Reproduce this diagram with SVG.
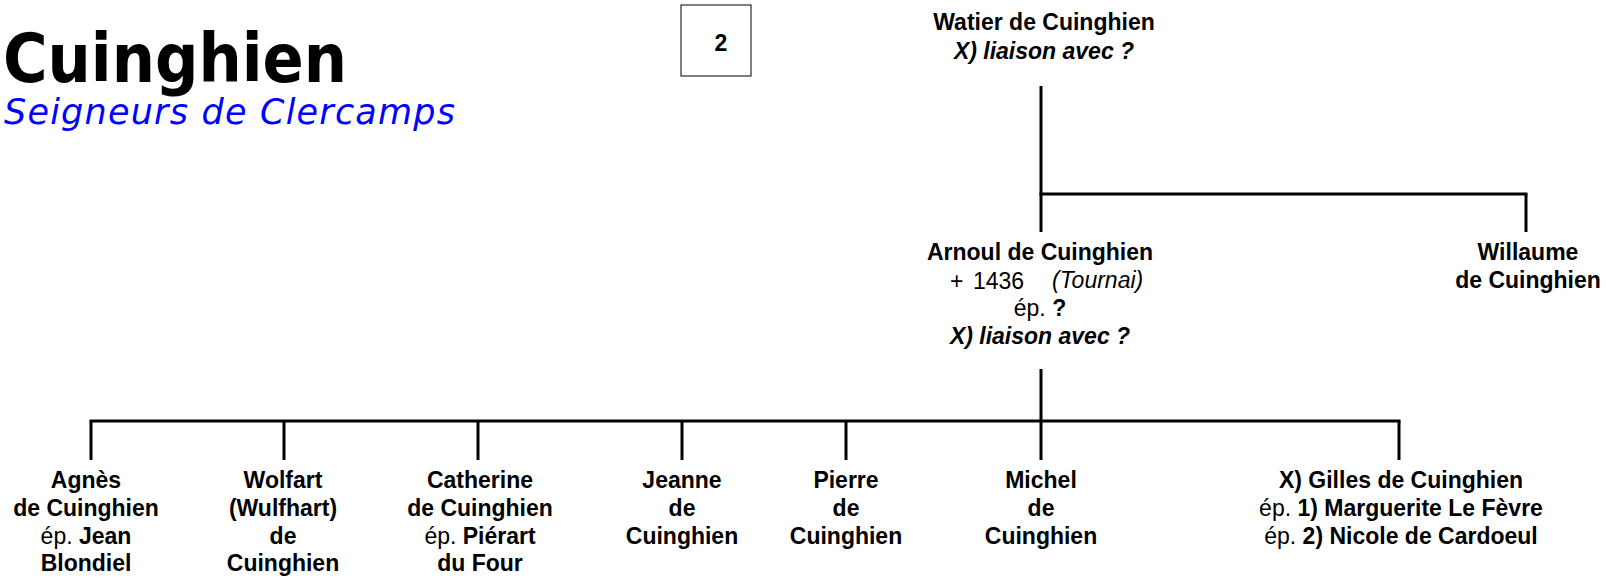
<svg xmlns="http://www.w3.org/2000/svg" width="1606" height="578" viewBox="0 0 1606 578">
<style>
.t{font-family:"Liberation Sans",Arial,sans-serif;font-size:23px;text-anchor:middle;fill:#000}
.s{text-anchor:start}
.b{font-weight:bold}
.i{font-style:italic}
.conn line{stroke:#000;stroke-width:3;stroke-linecap:butt}
</style>
<rect width="1606" height="578" fill="#fff"/>
<g id="title">
<text x="3" y="82" font-family="'DejaVu Sans',Verdana,sans-serif" font-weight="bold" font-size="67" textLength="344" lengthAdjust="spacingAndGlyphs">Cuinghien</text>
<text x="4" y="124" font-family="'DejaVu Sans',Verdana,sans-serif" font-style="italic" font-size="35" fill="#0000ff" textLength="451">Seigneurs de Clercamps</text>
</g>
<g id="page-number">
<rect x="681" y="5" width="70" height="71" fill="#fff" stroke="#000" stroke-width="1"/>
<text class="t b" x="721" y="51" font-size="21">2</text>
</g>
<g class="conn" id="connectors">
<line x1="1041" y1="86" x2="1041" y2="232"/>
<line x1="1039.5" y1="194" x2="1527.5" y2="194"/>
<line x1="1526" y1="194" x2="1526" y2="232"/>
<line x1="1041" y1="369" x2="1041" y2="460"/>
<line x1="89.5" y1="421" x2="1400.5" y2="421"/>
<line x1="91" y1="421" x2="91" y2="460"/>
<line x1="284" y1="421" x2="284" y2="460"/>
<line x1="478" y1="421" x2="478" y2="460"/>
<line x1="682" y1="421" x2="682" y2="460"/>
<line x1="846" y1="421" x2="846" y2="460"/>
<line x1="1399" y1="421" x2="1399" y2="460"/>
</g>
<g id="watier">
<text class="t b" x="1044" y="30" font-size="24">Watier de Cuinghien</text>
<text class="t b i" x="1044" y="59" font-size="24">X) liaison avec ?</text>
</g>
<g id="arnoul">
<text class="t b" x="1040" y="260">Arnoul de Cuinghien</text>
<text class="t s" x="950" y="289" font-size="25">+</text>
<text class="t s" x="973" y="289" font-size="25">1436</text>
<text class="t s i" x="1052" y="288" font-size="17">(Tournai)</text>
<text class="t" x="1040" y="316">ép. <tspan class="b">?</tspan></text>
<text class="t b i" x="1040" y="344">X) liaison avec ?</text>
</g>
<g id="willaume">
<text class="t b" x="1528" y="260">Willaume</text>
<text class="t b" x="1528" y="288">de Cuinghien</text>
</g>
<g id="agnes">
<text class="t b" x="86" y="488">Agnès</text>
<text class="t b" x="86" y="516">de Cuinghien</text>
<text class="t" x="86" y="543.5">ép. <tspan class="b">Jean</tspan></text>
<text class="t b" x="86" y="571">Blondiel</text>
</g>
<g id="wolfart">
<text class="t b" x="283" y="488">Wolfart</text>
<text class="t b" x="283" y="516">(Wulfhart)</text>
<text class="t b" x="283" y="543.5">de</text>
<text class="t b" x="283" y="571">Cuinghien</text>
</g>
<g id="catherine">
<text class="t b" x="480" y="488">Catherine</text>
<text class="t b" x="480" y="516">de Cuinghien</text>
<text class="t" x="480" y="543.5">ép. <tspan class="b">Piérart</tspan></text>
<text class="t b" x="480" y="571">du Four</text>
</g>
<g id="jeanne">
<text class="t b" x="682" y="488">Jeanne</text>
<text class="t b" x="682" y="516">de</text>
<text class="t b" x="682" y="543.5">Cuinghien</text>
</g>
<g id="pierre">
<text class="t b" x="846" y="488">Pierre</text>
<text class="t b" x="846" y="516">de</text>
<text class="t b" x="846" y="543.5">Cuinghien</text>
</g>
<g id="michel">
<text class="t b" x="1041" y="488">Michel</text>
<text class="t b" x="1041" y="516">de</text>
<text class="t b" x="1041" y="543.5">Cuinghien</text>
</g>
<g id="gilles">
<text class="t b" x="1401" y="488">X) Gilles de Cuinghien</text>
<text class="t" x="1401" y="516">ép. <tspan class="b">1) Marguerite Le Fèvre</tspan></text>
<text class="t" x="1401" y="543.5">ép. <tspan class="b">2) Nicole de Cardoeul</tspan></text>
</g>
</svg>
